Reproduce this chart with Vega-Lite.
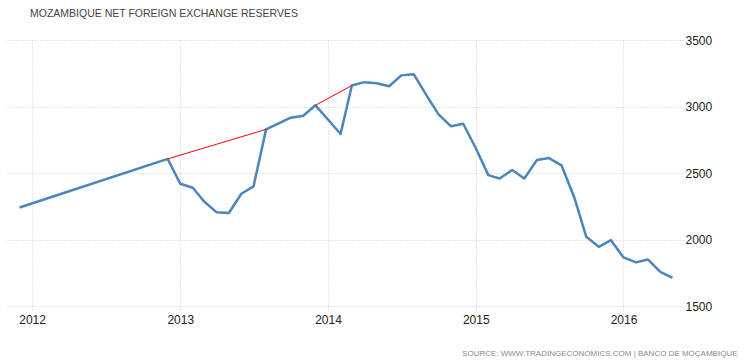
{
  "$schema": "https://vega.github.io/schema/vega-lite/v6.json",
  "width": 676,
  "height": 266,
  "autosize": {"type": "none"},
  "padding": {"left": 7, "top": 40, "right": 66, "bottom": 57},
  "background": "white",
  "title": {
    "text": "MOZAMBIQUE NET FOREIGN EXCHANGE RESERVES",
    "anchor": "start",
    "frame": "group",
    "dx": 23,
    "offset": 15,
    "font": "Liberation Sans",
    "fontSize": 10.5,
    "fontWeight": "normal",
    "color": "#444444"
  },
  "config": {
    "view": {"stroke": null},
    "axis": {
      "labelFont": "Liberation Sans",
      "labelFontSize": 12,
      "labelColor": "#222222",
      "gridColor": "#cccccc",
      "gridDash": [1, 2],
      "gridWidth": 1,
      "domain": false
    }
  },
  "datasets": {
    "reserves": [
      {"date": "2011-12-01", "value": 2241},
      {"date": "2012-12-01", "value": 2606},
      {"date": "2013-01-01", "value": 2419},
      {"date": "2013-02-01", "value": 2389},
      {"date": "2013-03-01", "value": 2286},
      {"date": "2013-04-01", "value": 2204},
      {"date": "2013-05-01", "value": 2199},
      {"date": "2013-06-01", "value": 2344},
      {"date": "2013-07-01", "value": 2399},
      {"date": "2013-08-01", "value": 2828},
      {"date": "2013-09-01", "value": 2873},
      {"date": "2013-10-01", "value": 2916},
      {"date": "2013-11-01", "value": 2931},
      {"date": "2013-12-01", "value": 3009},
      {"date": "2014-01-01", "value": 2902},
      {"date": "2014-02-01", "value": 2793},
      {"date": "2014-03-01", "value": 3158},
      {"date": "2014-04-01", "value": 3183},
      {"date": "2014-05-01", "value": 3175},
      {"date": "2014-06-01", "value": 3152},
      {"date": "2014-07-01", "value": 3234},
      {"date": "2014-08-01", "value": 3242},
      {"date": "2014-09-01", "value": 3086},
      {"date": "2014-10-01", "value": 2941},
      {"date": "2014-11-01", "value": 2851},
      {"date": "2014-12-01", "value": 2870},
      {"date": "2015-01-01", "value": 2688},
      {"date": "2015-02-01", "value": 2484},
      {"date": "2015-03-01", "value": 2459},
      {"date": "2015-04-01", "value": 2522},
      {"date": "2015-05-01", "value": 2459},
      {"date": "2015-06-01", "value": 2597},
      {"date": "2015-07-01", "value": 2612},
      {"date": "2015-08-01", "value": 2557},
      {"date": "2015-09-01", "value": 2320},
      {"date": "2015-10-01", "value": 2020},
      {"date": "2015-11-01", "value": 1945},
      {"date": "2015-12-01", "value": 1995},
      {"date": "2016-01-01", "value": 1865},
      {"date": "2016-02-01", "value": 1828},
      {"date": "2016-03-01", "value": 1850},
      {"date": "2016-04-01", "value": 1757},
      {"date": "2016-05-01", "value": 1712}
    ],
    "gaps": [
      {"seg": "a", "date": "2012-12-01", "value": 2606},
      {"seg": "a", "date": "2013-08-01", "value": 2828},
      {"seg": "b", "date": "2013-12-01", "value": 3009},
      {"seg": "b", "date": "2014-03-01", "value": 3158}
    ]
  },
  "layer": [
    {
      "data": {"name": "reserves"},
      "mark": {"type": "line", "color": "#4a86bd", "strokeWidth": 2.5, "strokeJoin": "round"},
      "encoding": {
        "x": {
          "field": "date",
          "type": "temporal",
          "scale": {"domain": ["2011-10-31", "2016-05-27"]},
          "axis": {
            "title": "SOURCE: WWW.TRADINGECONOMICS.COM | BANCO DE MOÇAMBIQUE",
            "titleFont": "Liberation Sans",
            "titleFontSize": 8,
            "titleFontWeight": "normal",
            "titleColor": "#8a8a8a",
            "titleAnchor": "end",
            "titleAlign": "right",
            "titleBaseline": "alphabetic",
            "titleX": 730,
            "titleY": 49,
            "format": "%Y",
            "tickCount": {"interval": "year", "step": 1},
            "grid": true,
            "ticks": true,
            "tickSize": 5,
            "tickColor": "#cccccc",
            "tickDash": [1, 2],
            "labelPadding": 3,
            "labelAlign": "center"
          }
        },
        "y": {
          "field": "value",
          "type": "quantitative",
          "scale": {"domain": [1500, 3500], "nice": false, "zero": false},
          "axis": {
            "orient": "right",
            "title": null,
            "format": "d",
            "values": [1500, 2000, 2500, 3000, 3500],
            "ticks": false,
            "labelPadding": 2,
            "grid": true
          }
        }
      }
    },
    {
      "data": {"name": "gaps"},
      "mark": {"type": "line", "color": "#ff0000", "strokeWidth": 1},
      "encoding": {
        "x": {"field": "date", "type": "temporal"},
        "y": {"field": "value", "type": "quantitative"},
        "detail": {"field": "seg"}
      }
    }
  ]
}
